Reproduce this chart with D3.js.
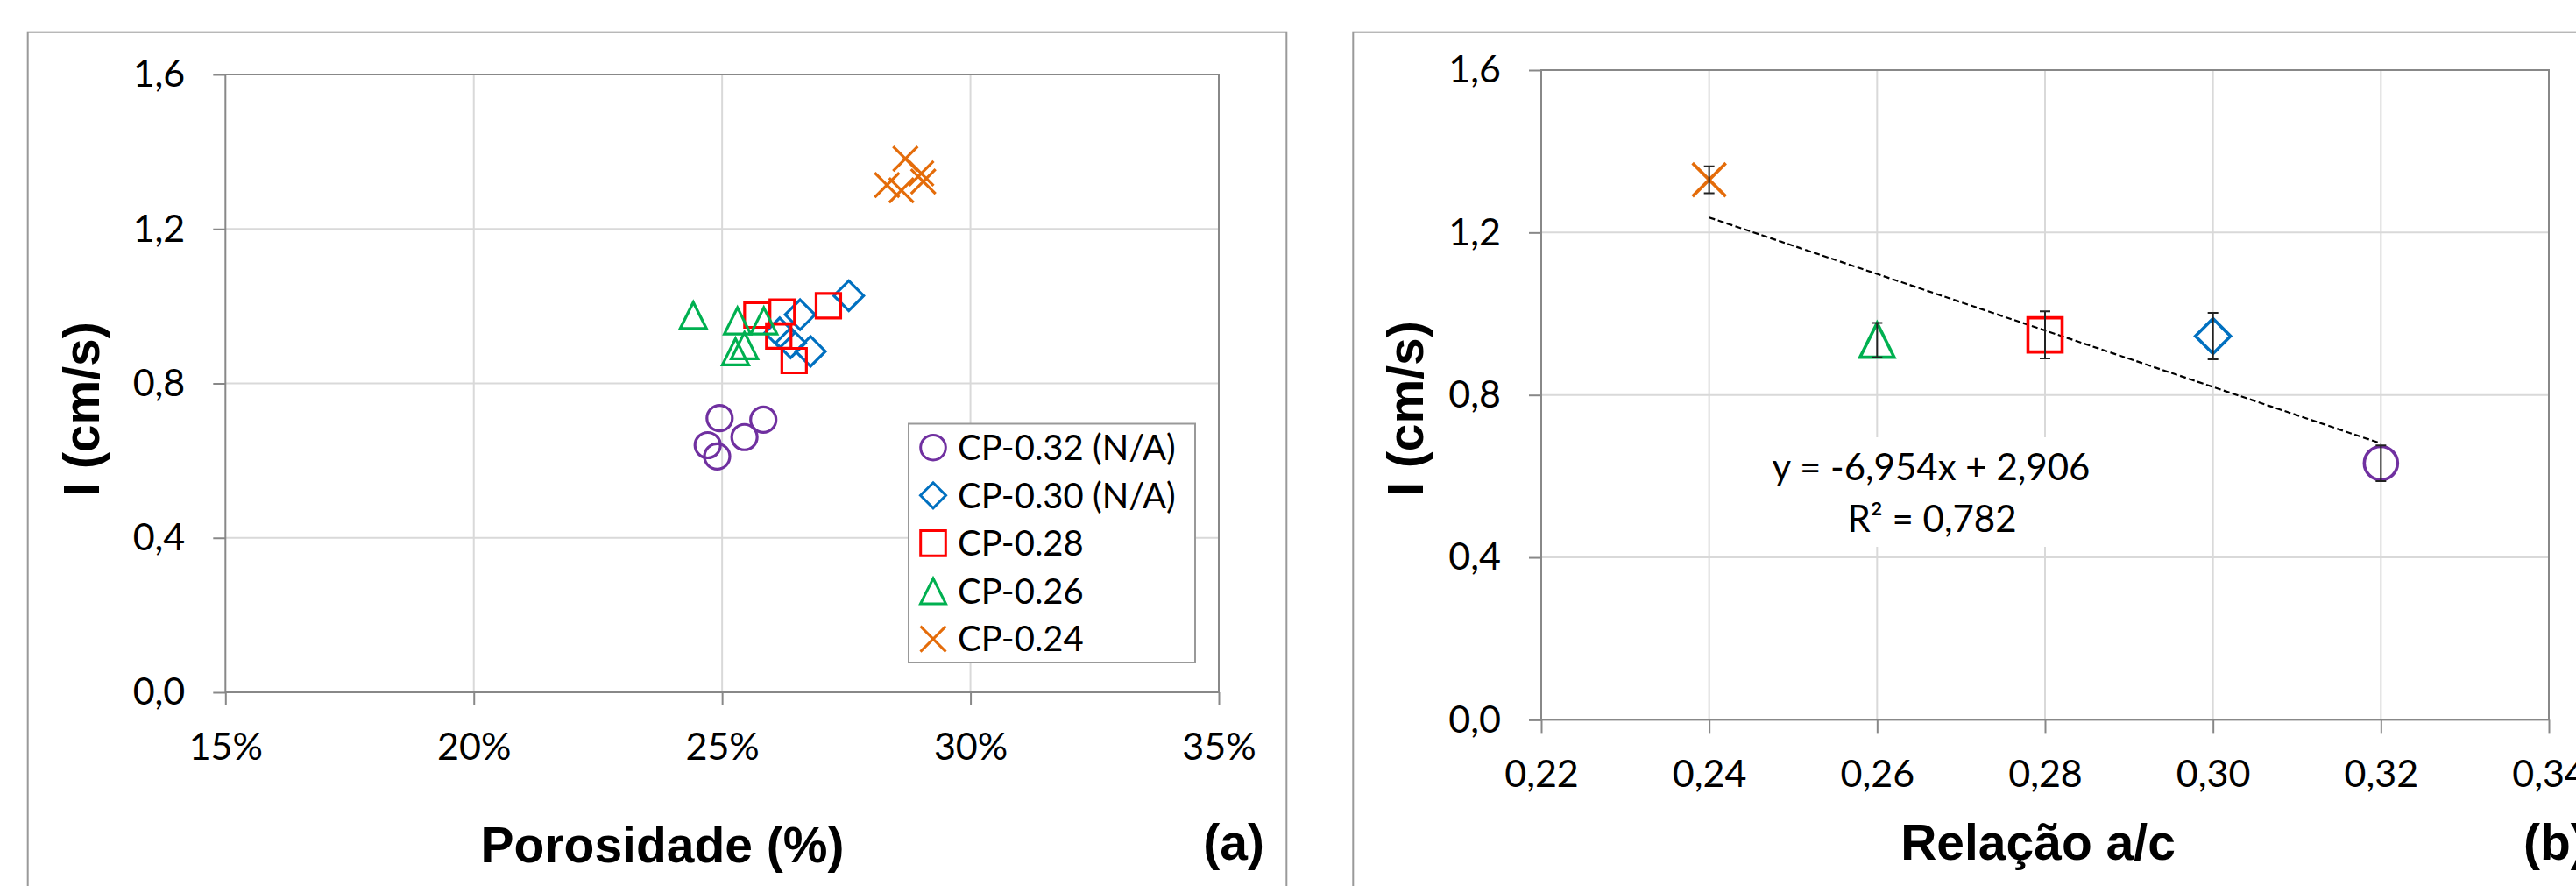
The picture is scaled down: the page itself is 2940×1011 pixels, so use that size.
<!DOCTYPE html>
<html>
<head>
<meta charset="utf-8">
<script src="https://cdn.jsdelivr.net/npm/d3@7"></script>
<style>
  body { margin: 0; background: white; }
</style>
</head>
<body>
<script>
// ---- data (a): porosity (%) vs I (cm/s) ----
const seriesNames = ["CP-0.32 (N/A)", "CP-0.30 (N/A)", "CP-0.28", "CP-0.26", "CP-0.24"]

const cp032Porosity = [24.95, 25.83, 25.45, 24.71, 24.90]
const cp032I = [0.710, 0.706, 0.661, 0.640, 0.611]

const cp030Porosity = [27.55, 26.57, 26.78, 26.16, 26.38]
const cp030I = [1.027, 0.978, 0.883, 0.931, 0.905]

const cp028Porosity = [25.70, 26.21, 27.14, 26.14, 26.45]
const cp028I = [0.977, 0.985, 1.001, 0.923, 0.859]

const cp026Porosity = [24.42, 25.31, 25.84, 25.45, 25.27]
const cp026I = [0.976, 0.962, 0.962, 0.898, 0.882]

const cp024Porosity = [28.69, 28.32, 28.61, 29.01, 29.05]
const cp024I = [1.382, 1.314, 1.300, 1.344, 1.323]

// ---- data (b): a/c ratio vs mean I ----
const ratioAC = [0.32, 0.30, 0.28, 0.26, 0.24]
const meanI = [0.632, 0.945, 0.948, 0.935, 1.330]
const stdI = [0.044, 0.057, 0.058, 0.0425, 0.033]
const trendSlope = -6.954
const trendIntercept = 2.906
const trendR2 = "0,782"
const trendRange = [0.24, 0.32]

// ticks
const yTicks = [0, 0.4, 0.8, 1.2, 1.6]
const xTicksA = [15, 20, 25, 30, 35]
const xTicksB = [0.22, 0.24, 0.26, 0.28, 0.30, 0.32, 0.34]

// ---- styling ----
const colors = ["#7030A0", "#0070C0", "#FF0000", "#00B050", "#E46C0A"]
const shapes = ["circle", "diamond", "square", "triangle", "x"]
const sizeA = { circle: 14.5, diamond: 17, square: 14, triangle: 15, x: 14 }
const sizeLegend = { circle: 14.3, diamond: 14.5, square: 14.3, triangle: 14.5, x: 14.5 }
const sizeB = { circle: 19, diamond: 20, square: 19.5, triangle: 19.5, x: 19 }
const axisColor = "#888888"
const gridColor = "#D9D9D9"
const tickFont = "Lato, 'Open Sans', sans-serif"
const titleFont = "'Liberation Sans', Arial, sans-serif"

// portuguese style numbers: comma decimal, plain hyphen minus
const ptLocale = d3.formatLocale({ decimal: ",", thousands: ".", grouping: [3], currency: ["R$", ""], minus: "-" })
const commaFmt = f => ptLocale.format(f)

const markerPath = (shape, h) => {
    if (shape === "circle") return d3.arc()({ innerRadius: 0, outerRadius: h, startAngle: 0, endAngle: 2 * Math.PI })
    if (shape === "diamond") return `M0,${-h}L${h},0L0,${h}L${-h},0Z`
    if (shape === "square") return `M${-h},${-h}H${h}V${h}H${-h}Z`
    if (shape === "triangle") return `M0,${-h}L${h},${h}L${-h},${h}Z`
    return `M${-h},${-h}L${h},${h}M${h},${-h}L${-h},${h}`
}

const width = 2940
const height = 1011

const svg = d3.select("body")
    .append("svg")
    .attr("width", width)
    .attr("height", height)
    .attr("viewBox", [0, 0, width, height])
    .style("background-color", "white")

// outer chart borders
svg.append("rect").attr("x", 31.7).attr("y", 36.7).attr("width", 1436.6).attr("height", 1100)
    .attr("fill", "white").attr("stroke", "#9a9a9a").attr("stroke-width", 2)
svg.append("rect").attr("x", 1544.3).attr("y", 36.7).attr("width", 1500).attr("height", 1100)
    .attr("fill", "white").attr("stroke", "#9a9a9a").attr("stroke-width", 2)

const drawFrame = (x, y, xTicks, xFmt) => {
    const [x0, x1] = x.range()
    const [y0, y1] = y.range()
    const g = svg.append("g")

    g.selectAll(".vgrid").data(xTicks.slice(1, -1)).enter().append("line")
        .attr("x1", d => x(d)).attr("x2", d => x(d)).attr("y1", y0).attr("y2", y1)
        .attr("stroke", gridColor).attr("stroke-width", 2)
    g.selectAll(".hgrid").data(yTicks.slice(1, -1)).enter().append("line")
        .attr("x1", x0).attr("x2", x1).attr("y1", d => y(d)).attr("y2", d => y(d))
        .attr("stroke", gridColor).attr("stroke-width", 2)

    g.append("rect").attr("x", x0).attr("y", y1).attr("width", x1 - x0).attr("height", y0 - y1)
        .attr("fill", "none").attr("stroke", axisColor).attr("stroke-width", 2)

    const yAxis = g.append("g").attr("transform", `translate(${x0},0)`)
        .call(d3.axisLeft(y).tickValues(yTicks).tickSize(14).tickPadding(32).tickFormat(commaFmt(".1f")))
    const xAxis = g.append("g").attr("transform", `translate(0,${y0})`)
        .call(d3.axisBottom(x).tickValues(xTicks).tickSize(15).tickPadding(31).tickFormat(xFmt))

    for (const ax of [yAxis, xAxis]) {
        ax.select(".domain").remove()
        ax.selectAll(".tick line").attr("stroke", axisColor).attr("stroke-width", 2)
        ax.selectAll(".tick text").attr("fill", "#000").style("font-family", tickFont).style("font-size", "43px")
    }
    return g
}

// ================= panel (a) =================
const xA = d3.scaleLinear([15, 35], [257.3, 1391])
const yA = d3.scaleLinear([0, 1.6], [790, 85])
drawFrame(xA, yA, xTicksA, d => d + "%")

const seriesA = [
    [cp032Porosity, cp032I],
    [cp030Porosity, cp030I],
    [cp028Porosity, cp028I],
    [cp026Porosity, cp026I],
    [cp024Porosity, cp024I],
]

seriesA.forEach(([px, py], i) => {
    svg.append("g").selectAll("path")
        .data(px.map((v, j) => [v, py[j]]))
        .enter()
        .append("path")
        .attr("transform", d => `translate(${xA(d[0])},${yA(d[1])})`)
        .attr("d", markerPath(shapes[i], sizeA[shapes[i]]))
        .attr("fill", "none")
        .attr("stroke", colors[i])
        .attr("stroke-width", 3.2)
})

// legend
svg.append("rect").attr("x", 1037).attr("y", 483.5).attr("width", 327).attr("height", 272.5)
    .attr("fill", "white").attr("stroke", "#999").attr("stroke-width", 2)
seriesNames.forEach((name, i) => {
    const cy = 510.7 + i * 54.6
    svg.append("path")
        .attr("transform", `translate(1065,${cy})`)
        .attr("d", markerPath(shapes[i], sizeLegend[shapes[i]]))
        .attr("fill", "none").attr("stroke", colors[i]).attr("stroke-width", 3)
    svg.append("text").attr("x", 1093).attr("y", cy + 14.3).text(name)
        .style("font-family", tickFont).style("font-size", "40px").attr("fill", "#000")
})

svg.append("text").attr("x", 756).attr("y", 984).attr("text-anchor", "middle").text("Porosidade (%)")
    .style("font-family", titleFont).style("font-weight", "bold").style("font-size", "57px")
svg.append("text").attr("x", 1443).attr("y", 981).attr("text-anchor", "end").text("(a)")
    .style("font-family", titleFont).style("font-weight", "bold").style("font-size", "57px")
svg.append("text").attr("transform", "translate(113,467) rotate(-90)").attr("text-anchor", "middle").text("I (cm/s)")
    .style("font-family", titleFont).style("font-weight", "bold").style("font-size", "57px")

// ================= panel (b) =================
const xB = d3.scaleLinear([0.22, 0.34], [1759, 2909])
const yB = d3.scaleLinear([0, 1.6], [821.4, 80])
drawFrame(xB, yB, xTicksB, commaFmt(".2f"))

// label background (hides gridlines behind the equation)
svg.append("rect").attr("x", 2010).attr("y", 499).attr("width", 390).attr("height", 125).attr("fill", "white")

// trend line
svg.append("line")
    .attr("x1", xB(trendRange[0])).attr("y1", yB(trendSlope * trendRange[0] + trendIntercept))
    .attr("x2", xB(trendRange[1])).attr("y2", yB(trendSlope * trendRange[1] + trendIntercept))
    .attr("stroke", "#000").attr("stroke-width", 2.2).attr("stroke-dasharray", "7,3.5")

ratioAC.forEach((r, i) => {
    const cx = xB(r)
    svg.append("path")
        .attr("transform", `translate(${cx},${yB(meanI[i])})`)
        .attr("d", markerPath(shapes[i], sizeB[shapes[i]]))
        .attr("fill", "none").attr("stroke", colors[i]).attr("stroke-width", 3.6)
    const top = yB(meanI[i] + stdI[i])
    const bot = yB(meanI[i] - stdI[i])
    svg.append("path")
        .attr("d", `M${cx},${top}V${bot}M${cx - 6},${top}H${cx + 6}M${cx - 6},${bot}H${cx + 6}`)
        .attr("fill", "none").attr("stroke", "#222").attr("stroke-width", 2)
})

svg.append("text").attr("x", 2204).attr("y", 548).attr("text-anchor", "middle")
    .text(`y = ${commaFmt(".3f")(trendSlope)}x + ${commaFmt(".3f")(trendIntercept)}`)
    .style("font-family", tickFont).style("font-size", "42px").attr("fill", "#000")
svg.append("text").attr("x", 2205).attr("y", 607).attr("text-anchor", "middle")
    .text(`R² = ${trendR2}`)
    .style("font-family", tickFont).style("font-size", "42px").attr("fill", "#000")

svg.append("text").attr("x", 2326).attr("y", 981).attr("text-anchor", "middle").text("Relação a/c")
    .style("font-family", titleFont).style("font-weight", "bold").style("font-size", "57px")
svg.append("text").attr("x", 2880).attr("y", 981).text("(b)")
    .style("font-family", titleFont).style("font-weight", "bold").style("font-size", "57px")
svg.append("text").attr("transform", "translate(1624,466) rotate(-90)").attr("text-anchor", "middle").text("I (cm/s)")
    .style("font-family", titleFont).style("font-weight", "bold").style("font-size", "57px")
</script>
</body>
</html>
